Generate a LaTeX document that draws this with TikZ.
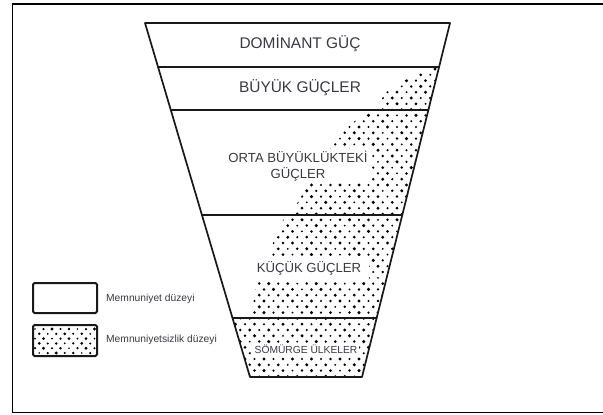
\documentclass[tikz,border=0pt]{standalone}
\usepackage{fontspec}
\setmainfont{Liberation Sans}
\usetikzlibrary{calc}

\definecolor{inkgray}{RGB}{58,58,66}

\tikzset{
  outline/.style={line width=1.7bp, black!90, line join=round, line cap=round},
  frameline/.style={line width=1.3bp, black},
  label/.style={text=inkgray, inner sep=0pt},
  clearbox/.style={fill=white, text=inkgray},
  legendbox/.style={line width=2bp, black!90, rounded corners=1.5bp},
  legendtext/.style={text=inkgray, anchor=west, inner sep=0pt, font=\fontsize{10.3}{12}\selectfont},
}

\begin{document}
\begin{tikzpicture}[x=1bp, y=-1bp]
  % page area
  \useasboundingbox (0,0) rectangle (603,414);
  \fill[white] (0,0) rectangle (603,414);
  \draw[frameline] (12.5,4) rectangle (640,412.5);

  % funnel corners
  \coordinate (TL) at (145,23);
  \coordinate (TR) at (450,23);
  \coordinate (BR) at (362,377);
  \coordinate (BL) at (250,377);

  % level boundaries on the slanted sides
  \coordinate (L1) at ($(TL)!0.1243!(BL)$);
  \coordinate (R1) at ($(TR)!0.1243!(BR)$);
  \coordinate (L2) at ($(TL)!0.2458!(BL)$);
  \coordinate (R2) at ($(TR)!0.2458!(BR)$);
  \coordinate (L3) at ($(TL)!0.5424!(BL)$);
  \coordinate (R3) at ($(TR)!0.5424!(BR)$);
  \coordinate (L4) at ($(TL)!0.8333!(BL)$);
  \coordinate (R4) at ($(TR)!0.8333!(BR)$);

  % dissatisfaction zone: dotted
  \begin{scope}
    \clip (R1) -- (420,72) -- (400,83) -- (385,93) -- (376,110) -- (366,112)
      -- (340,133) -- (320,165) -- (307,187) -- (290,215) -- (283,220)
      -- (273,243) -- (262,270) -- (255,290) -- (250,318) -- (L4)
      -- (BL) -- (BR) -- cycle;
    \foreach \j in {0,...,53} {
      \foreach \i in {0,...,23} {
        \pgfmathsetmacro\xx{226+9.5*\i+4.75*mod(\j,2)}
        \pgfmathsetmacro\yy{69+5.8*\j}
        \pgfmathsetmacro\rr{1.05+0.16*mod(\i*7+\j*3,5)}
        \fill[black] (\xx,\yy) circle[radius=\rr bp];
      }
    }
  \end{scope}

  % level boundaries and outline
  \draw[outline] (L1) -- (R1);
  \draw[outline] (L2) -- (R2);
  \draw[outline] (L3) -- (R3);
  \draw[outline] (L4) -- (R4);
  \draw[outline] (TL) -- (TR) -- (BR) -- (BL) -- cycle;

  % level names
  \node[label, font=\fontsize{15.5}{18}\selectfont] (dom) at (300,43) {DOMİNANT GÜÇ};
  \node[label, font=\fontsize{15.5}{18}\selectfont] (big) at (300,88) {BÜYÜK GÜÇLER};
  \node[clearbox, align=center, inner xsep=3bp, inner ysep=2bp,
        font=\fontsize{13.2}{16}\selectfont] (mid) at (298,166)
        {ORTA BÜYÜKLÜKTEKİ\\GÜÇLER};
  \node[clearbox, inner xsep=8bp, inner ysep=5bp,
        font=\fontsize{13.2}{16}\selectfont] (small) at (309,268) {KÜÇÜK GÜÇLER};
  \node[clearbox, inner xsep=1.5bp, inner ysep=1.5bp,
        font=\fontsize{10.3}{12}\selectfont] (col) at (306,349) {SÖMÜRGE ÜLKELER};

  % legend
  \draw[legendbox] (33,283) rectangle (97,313);
  \begin{scope}
    \clip (33,325) rectangle (97,356);
    \foreach \j in {0,...,6} {
      \foreach \i in {0,...,8} {
        \pgfmathsetmacro\xx{35+8.5*\i+4.25*mod(\j,2)}
        \pgfmathsetmacro\yy{329+4.8*\j}
        \pgfmathsetmacro\rr{0.95+0.15*mod(\i*7+\j*3,5)}
        \fill[black] (\xx,\yy) circle[radius=\rr bp];
      }
    }
  \end{scope}
  \draw[legendbox] (33,325) rectangle (97,356);
  \node[legendtext] (sat) at (106,299) {Memnuniyet düzeyi};
  \node[legendtext] (dis) at (106,340) {Memnuniyetsizlik düzeyi};
\end{tikzpicture}
\end{document}
